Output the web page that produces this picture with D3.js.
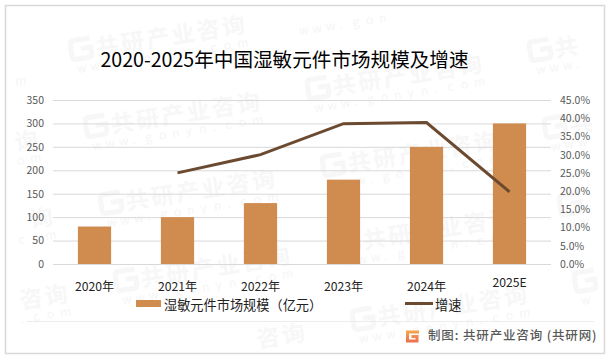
<!DOCTYPE html>
<html>
<head>
<meta charset="utf-8">
<script src="https://cdn.jsdelivr.net/npm/d3@7"></script>
<style>
  html, body { margin: 0; padding: 0; background: #fff; }
  svg { display: block; }
  text { font-family: "Noto Sans CJK SC", "Noto Sans", sans-serif; }
</style>
</head>
<body>
<div id="chart"></div>
<script>
// ----------------------- data ------------------------
const years = ["2020年", "2021年", "2022年", "2023年", "2024年", "2025E"];
const scaleValues = [80, 100, 130, 180, 250, 300];
const growthValues = [null, 25, 30, 38.5, 38.8, 19.8];
const leftTicks = [0, 50, 100, 150, 200, 250, 300, 350];
const rightTicks = [0, 5, 10, 15, 20, 25, 30, 35, 40, 45];

// ----------------------- constants ------------------------
const width = 612,
  height = 359,
  plot = { left: 53, right: 551, top: 100, bottom: 264 },
  barColor = "#d08c4f",
  lineColor = "#6b4a30";

const svg = d3.select("#chart").append("svg")
  .attr("width", width)
  .attr("height", height);

// ----------------------- watermark ------------------------
// tiled, one text per character so nothing hangs over the frame
const wm = svg.append("g").attr("class", "watermark");
const wmAngle = -9 * Math.PI / 180;

function wmChars(wx, wy, str, startX, baseY, step, size, weight, color) {
  Array.from(str).forEach((ch, i) => {
    const lx = startX + i * step;
    const px = wx + lx * Math.cos(wmAngle) - baseY * Math.sin(wmAngle),
      py = wy + lx * Math.sin(wmAngle) + baseY * Math.cos(wmAngle);
    if (px < 9 || px + size > 601 || py - size < 9 || py > 350) return;
    wm.append("text")
      .attr("transform", `translate(${px},${py}) rotate(-9)`)
      .attr("font-size", size)
      .attr("font-weight", weight)
      .attr("fill", color)
      .text(ch);
  });
}

for (let row = -1; row < 5; row++) {
  for (let col = -1; col < 4; col++) {
    const wx = 72 + col * 222 + row * 15,
      wy = 56 - col * 38 + row * 77;
    if (wx > 9 && wx + 22 < 601 && wy - 18 > 9 && wy + 6 < 350) {
      wm.append("path")
        .attr("transform", `translate(${wx},${wy}) rotate(-9)`)
        .attr("d", "M20,-15 H4 Q0,-15 0,-11 V0 Q0,4 4,4 H16 Q20,4 20,0 V-6 H10")
        .attr("fill", "none")
        .attr("stroke", "#f7f7f7")
        .attr("stroke-width", 5);
    }
    wmChars(wx, wy, "共研产业咨询", 25, 4, 25.5, 23, 700, "#f7f7f7");
    wmChars(wx, wy, "www.gonyn.com", 3, 18, 13.5, 12, 400, "#f5f5f5");
  }
}

// ----------------------- frame ------------------------
svg.append("rect")
  .attr("x", 5.5).attr("y", 5.5)
  .attr("width", 599).attr("height", 348)
  .attr("fill", "none")
  .attr("stroke", "#d9d9d9")
  .attr("stroke-width", 1.5);

svg.append("text")
  .attr("x", 284.5).attr("y", 67)
  .attr("text-anchor", "middle")
  .attr("font-size", 19.6)
  .attr("fill", "#000")
  .text("2020-2025年中国湿敏元件市场规模及增速");

// ----------------------- scales ------------------------
const xScale = d3.scaleBand()
  .domain(years)
  .range([plot.left, plot.right])
  .paddingInner(0.6)
  .paddingOuter(0.3);

const yScale = d3.scaleLinear()
  .domain([0, 350])
  .range([plot.bottom, plot.top]);

const yRight = d3.scaleLinear()
  .domain([0, 45])
  .range([plot.bottom, plot.top]);

// ----------------------- axis ------------------------
const leftAxis = svg.append("g")
  .attr("transform", `translate(${plot.left},0)`)
  .call(d3.axisLeft(yScale).tickValues(leftTicks)
    .tickSize(-(plot.right - plot.left)).tickPadding(9));
leftAxis.select(".domain").remove();
leftAxis.selectAll("line").attr("stroke", "#d9d9d9");
leftAxis.selectAll("text")
  .attr("font-size", 10.5).attr("fill", "#595959");

const rightAxis = svg.append("g")
  .attr("transform", `translate(${plot.right},0)`)
  .call(d3.axisRight(yRight).tickValues(rightTicks)
    .tickFormat(d => d.toFixed(1) + "%")
    .tickSize(0).tickPadding(9));
rightAxis.select(".domain").remove();
rightAxis.selectAll("text")
  .attr("font-size", 10.5).attr("fill", "#595959");

svg.selectAll(".cat")
  .data(years)
  .join("text")
  .attr("class", "cat")
  .attr("x", d => xScale(d) + xScale.bandwidth() / 2)
  .attr("y", d => d === "2025E" ? 287 : 291)
  .attr("text-anchor", "middle")
  .attr("font-size", 12.2)
  .attr("fill", "#222")
  .text(d => d);

// ----------------------- bars ------------------------
svg.selectAll(".bar")
  .data(scaleValues)
  .join("rect")
  .attr("class", "bar")
  .attr("x", (d, i) => xScale(years[i]))
  .attr("y", d => yScale(d))
  .attr("width", xScale.bandwidth())
  .attr("height", d => plot.bottom - yScale(d))
  .attr("fill", barColor);

// ----------------------- line ------------------------
const line = d3.line()
  .defined(d => d !== null)
  .x((d, i) => xScale(years[i]) + xScale.bandwidth() / 2)
  .y(d => yRight(d));

svg.append("path")
  .attr("d", line(growthValues))
  .attr("fill", "none")
  .attr("stroke", lineColor)
  .attr("stroke-width", 3);

// ----------------------- legend ------------------------
svg.append("rect")
  .attr("x", 136).attr("y", 300)
  .attr("width", 25).attr("height", 7)
  .attr("fill", barColor);
svg.append("text")
  .attr("x", 164).attr("y", 310)
  .attr("font-size", 13.2).attr("fill", "#222")
  .text("湿敏元件市场规模（亿元）");
svg.append("line")
  .attr("x1", 405).attr("x2", 433)
  .attr("y1", 303.5).attr("y2", 303.5)
  .attr("stroke", lineColor)
  .attr("stroke-width", 3);
svg.append("text")
  .attr("x", 435).attr("y", 310)
  .attr("font-size", 13.2).attr("fill", "#222")
  .text("增速");

// ----------------------- footer ------------------------
svg.append("line")
  .attr("x1", 27).attr("x2", 594)
  .attr("y1", 321.5).attr("y2", 321.5)
  .attr("stroke", "#ececec");

const grad = svg.append("defs").append("linearGradient")
  .attr("id", "logoGrad")
  .attr("x1", 0).attr("y1", 0).attr("x2", 0).attr("y2", 1);
grad.append("stop").attr("offset", 0).attr("stop-color", "#f4a24c");
grad.append("stop").attr("offset", 1).attr("stop-color", "#ee7350");

svg.append("path")
  .attr("d", "M419,332 H407.5 V341 H417 V336.5 H411.5")
  .attr("fill", "none")
  .attr("stroke", "url(#logoGrad)")
  .attr("stroke-width", 3);

svg.append("text")
  .attr("x", 428).attr("y", 340)
  .attr("font-size", 12.5).attr("font-weight", 500)
  .attr("letter-spacing", 0.85)
  .attr("fill", "#595959")
  .text("制图: 共研产业咨询 (共研网)");
</script>
</body>
</html>
